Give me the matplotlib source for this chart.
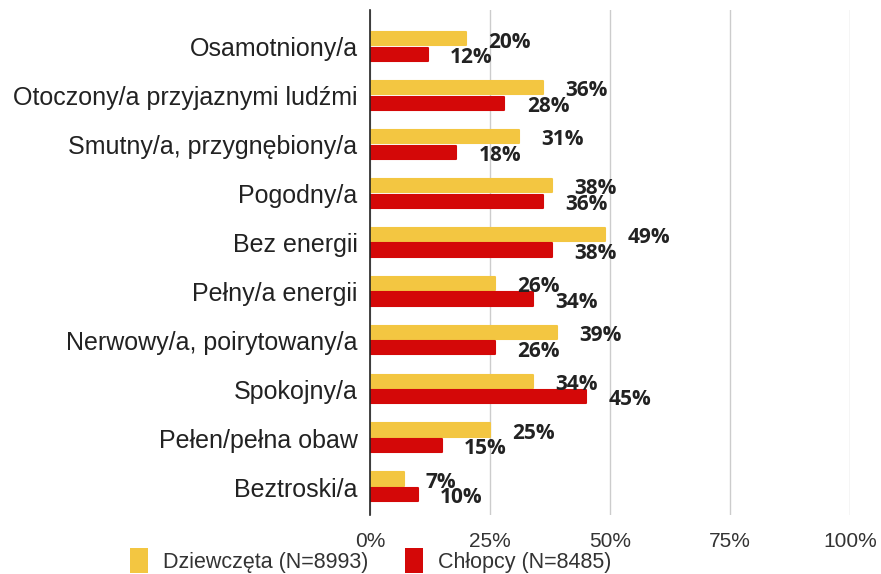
import numpy as np
import matplotlib
matplotlib.use("Agg")
from matplotlib import pyplot as plt
from matplotlib.patches import Patch

plt.rcParams['font.family'] = ['Liberation Sans', 'DejaVu Sans']

categories = ["Osamotniony/a", "Otoczony/a przyjaznymi ludźmi", "Smutny/a, przygnębiony/a",
              "Pogodny/a", "Bez energii", "Pełny/a energii", "Nerwowy/a, poirytowany/a",
              "Spokojny/a", "Pełen/pełna obaw", "Beztroski/a"]
girls = [20, 36, 31, 38, 49, 26, 39, 34, 25, 7]
boys = [12, 28, 18, 36, 38, 34, 26, 45, 15, 10]
xticks = [0, 25, 50, 75, 100]
xtick_labels = ["0%", "25%", "50%", "75%", "100%"]
legend_labels = ["Dziewczęta (N=8993)", "Chłopcy (N=8485)"]

yellow = '#F3C641'
red = '#D40808'

fig = plt.figure(figsize=(8.81, 5.74), dpi=100)
ax = fig.add_axes([0.42, 0.103, 0.545, 0.88])

y = np.arange(len(categories))
h = 0.27
ax.barh(y - 0.165, girls, height=h, color=yellow, edgecolor=yellow, linewidth=1.5,
        joinstyle='round', zorder=3)
ax.barh(y + 0.155, boys, height=h, color=red, edgecolor=red, linewidth=1.5,
        joinstyle='round', zorder=3)

# value labels
for i in range(len(categories)):
    ax.annotate(f"{girls[i]}%", (girls[i], y[i] - 0.1), xytext=(16, 0),
                textcoords='offset points', va='center', ha='left',
                fontsize=15, fontweight='bold', color='#222222',
                family=['Open Sans', 'DejaVu Sans'])
    ax.annotate(f"{boys[i]}%", (boys[i], y[i] + 0.22), xytext=(16, 0),
                textcoords='offset points', va='center', ha='left',
                fontsize=15, fontweight='bold', color='#222222',
                family=['Open Sans', 'DejaVu Sans'])

ax.set_xlim(0, 100)
ax.set_ylim(9.57, -0.76)
ax.set_yticks(y)
ax.set_yticklabels(categories, fontsize=18, color='#222222')
ax.set_xticks(xticks)
ax.set_xticklabels(xtick_labels, fontsize=15, color='#333333')
ax.tick_params(axis='both', length=0)
ax.tick_params(axis='y', pad=9)
ax.tick_params(axis='x', pad=12)

ax.grid(axis='x', color='#cccccc', linewidth=1, zorder=0)
for s in ['top', 'right', 'bottom']:
    ax.spines[s].set_visible(False)
ax.spines['left'].set_color('#222222')
ax.spines['left'].set_linewidth(1.2)
ax.spines['left'].set_zorder(4)

handles = [Patch(facecolor=yellow, label=legend_labels[0]),
           Patch(facecolor=red, label=legend_labels[1])]
leg = fig.legend(handles=handles, loc='lower left', bbox_to_anchor=(0.125, -0.032), ncol=2,
                 frameon=False, handlelength=0.85, handleheight=1.4,
                 handletextpad=0.7, columnspacing=1.7, prop={'size': 15.5})
for t in leg.get_texts():
    t.set_color('#333333')

fig.savefig("out.png", dpi=100)
